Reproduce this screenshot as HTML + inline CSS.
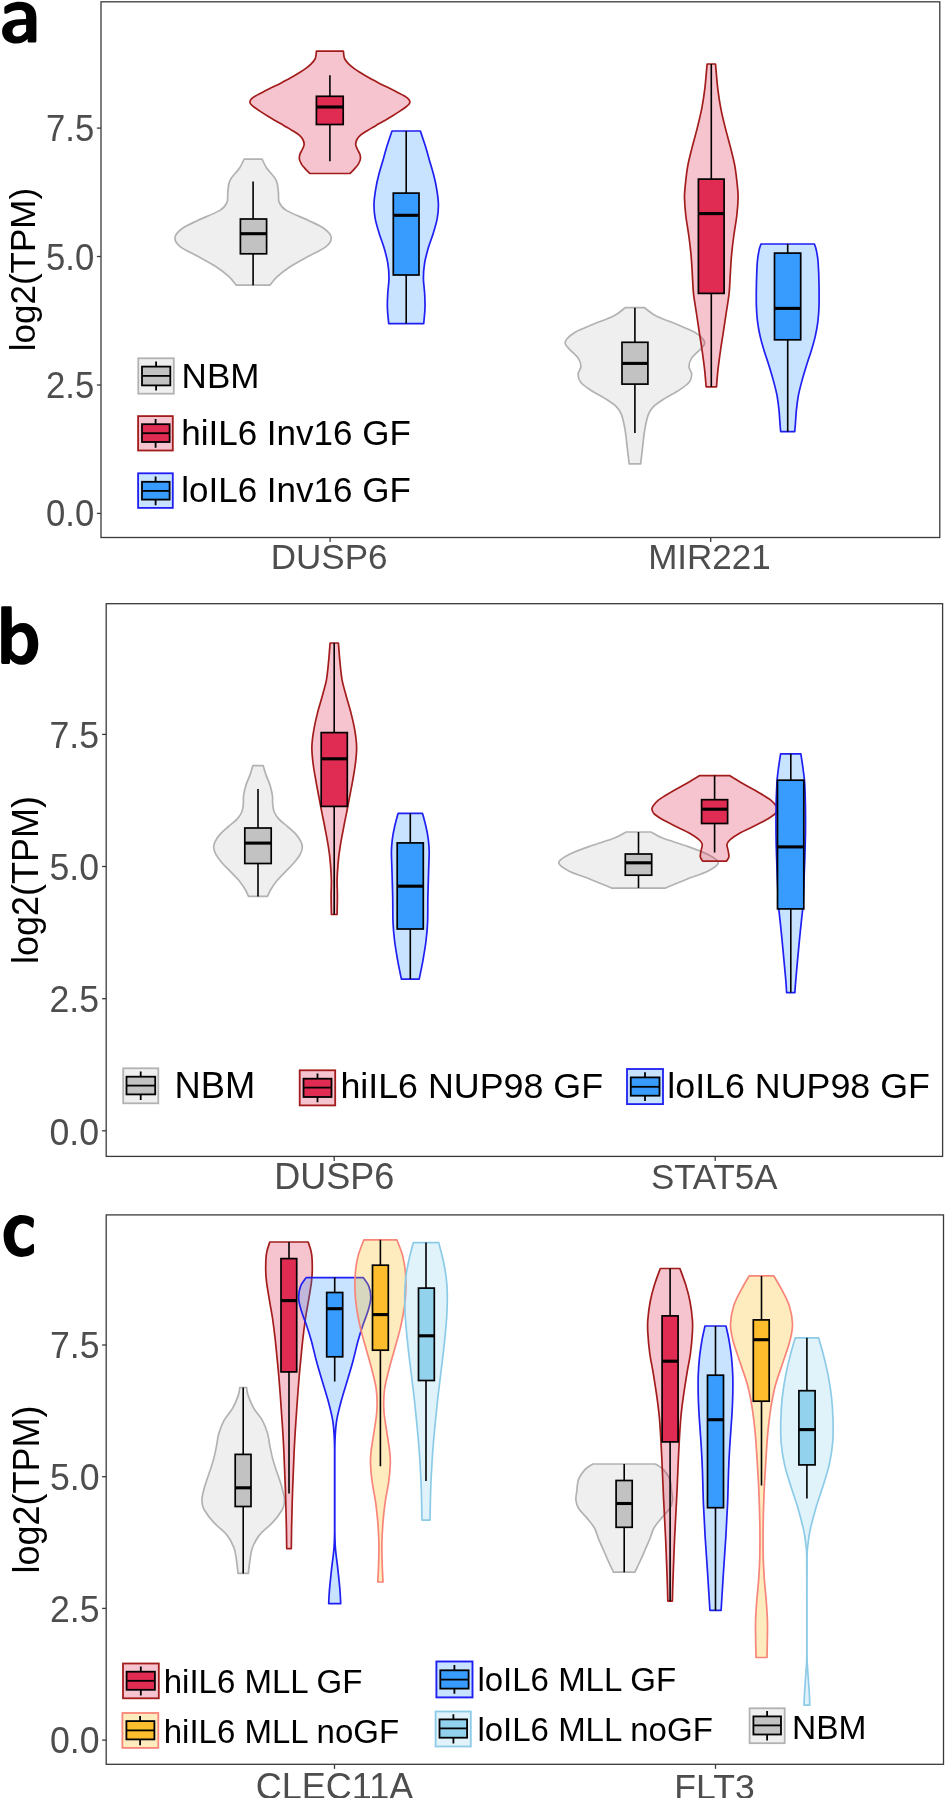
<!DOCTYPE html>
<html><head><meta charset="utf-8"><title>Figure</title>
<style>
html,body{margin:0;padding:0;background:#fff;}
body{width:945px;height:1798px;overflow:hidden;}
svg{display:block;font-family:"Liberation Sans",sans-serif;will-change:transform;transform:translateZ(0);}
</style></head><body>
<svg width="945" height="1798" viewBox="0 0 945 1798">
<rect width="945" height="1798" fill="#fff"/>
<rect x="101.0" y="1.8" width="838.8" height="535.7" fill="#fff" stroke="#3a3a3a" stroke-width="1.3"/>
<path d="M96.9 128.1 H101.0" stroke="#3a3a3a" stroke-width="1.3"/>
<text transform="translate(94.20 141.10) scale(0.962 1.020)" font-size="36.0" fill="#4d4d4d" text-anchor="end" >7.5</text>
<path d="M96.9 256.5 H101.0" stroke="#3a3a3a" stroke-width="1.3"/>
<text transform="translate(94.20 269.55) scale(0.962 1.020)" font-size="36.0" fill="#4d4d4d" text-anchor="end" >5.0</text>
<path d="M96.9 385.0 H101.0" stroke="#3a3a3a" stroke-width="1.3"/>
<text transform="translate(94.20 398.00) scale(0.962 1.020)" font-size="36.0" fill="#4d4d4d" text-anchor="end" >2.5</text>
<path d="M96.9 513.4 H101.0" stroke="#3a3a3a" stroke-width="1.3"/>
<text transform="translate(94.20 526.45) scale(0.962 1.020)" font-size="36.0" fill="#4d4d4d" text-anchor="end" >0.0</text>
<path d="M330.1 537.5 V542.1" stroke="#3a3a3a" stroke-width="1.3"/>
<text transform="translate(329.10 569.10) scale(1.000 1.000)" font-size="35.0" fill="#4d4d4d" text-anchor="middle" >DUSP6</text>
<path d="M710.7 537.5 V542.1" stroke="#3a3a3a" stroke-width="1.3"/>
<text transform="translate(709.50 569.10) scale(1.000 1.000)" font-size="35.0" fill="#4d4d4d" text-anchor="middle" >MIR221</text>
<text transform="translate(35.0 269.6) rotate(-90)" font-size="35.0" fill="#000" text-anchor="middle">log2(TPM)</text>
<rect x="106.2" y="603.7" width="836.4" height="552.7" fill="#fff" stroke="#3a3a3a" stroke-width="1.3"/>
<path d="M102.1 734.4 H106.2" stroke="#3a3a3a" stroke-width="1.3"/>
<text transform="translate(99.10 748.10) scale(0.990 1.020)" font-size="36.0" fill="#4d4d4d" text-anchor="end" >7.5</text>
<path d="M102.1 866.5 H106.2" stroke="#3a3a3a" stroke-width="1.3"/>
<text transform="translate(99.10 880.25) scale(0.990 1.020)" font-size="36.0" fill="#4d4d4d" text-anchor="end" >5.0</text>
<path d="M102.1 998.7 H106.2" stroke="#3a3a3a" stroke-width="1.3"/>
<text transform="translate(99.10 1012.40) scale(0.990 1.020)" font-size="36.0" fill="#4d4d4d" text-anchor="end" >2.5</text>
<path d="M102.1 1130.8 H106.2" stroke="#3a3a3a" stroke-width="1.3"/>
<text transform="translate(99.10 1144.55) scale(0.990 1.020)" font-size="36.0" fill="#4d4d4d" text-anchor="end" >0.0</text>
<path d="M334.2 1156.4 V1161.0" stroke="#3a3a3a" stroke-width="1.3"/>
<text transform="translate(334.20 1188.70) scale(1.000 1.000)" font-size="36.0" fill="#4d4d4d" text-anchor="middle" >DUSP6</text>
<path d="M715.2 1156.4 V1161.0" stroke="#3a3a3a" stroke-width="1.3"/>
<text transform="translate(714.20 1188.70) scale(0.969 1.000)" font-size="36.0" fill="#4d4d4d" text-anchor="middle" >STAT5A</text>
<text transform="translate(38.1 880.1) rotate(-90)" font-size="36.0" fill="#000" text-anchor="middle">log2(TPM)</text>
<rect x="106.2" y="1214.9" width="837.3" height="549.4" fill="#fff" stroke="#3a3a3a" stroke-width="1.3"/>
<path d="M102.1 1345.0 H106.2" stroke="#3a3a3a" stroke-width="1.3"/>
<text transform="translate(99.50 1358.30) scale(0.990 1.020)" font-size="36.0" fill="#4d4d4d" text-anchor="end" >7.5</text>
<path d="M102.1 1476.7 H106.2" stroke="#3a3a3a" stroke-width="1.3"/>
<text transform="translate(99.50 1490.00) scale(0.990 1.020)" font-size="36.0" fill="#4d4d4d" text-anchor="end" >5.0</text>
<path d="M102.1 1608.4 H106.2" stroke="#3a3a3a" stroke-width="1.3"/>
<text transform="translate(99.50 1621.70) scale(0.990 1.020)" font-size="36.0" fill="#4d4d4d" text-anchor="end" >2.5</text>
<path d="M102.1 1740.1 H106.2" stroke="#3a3a3a" stroke-width="1.3"/>
<text transform="translate(99.50 1753.40) scale(0.990 1.020)" font-size="36.0" fill="#4d4d4d" text-anchor="end" >0.0</text>
<path d="M334.5 1764.3 V1768.9" stroke="#3a3a3a" stroke-width="1.3"/>
<text transform="translate(334.50 1798.60) scale(1.000 1.000)" font-size="36.0" fill="#4d4d4d" text-anchor="middle" >CLEC11A</text>
<path d="M715.5 1764.3 V1768.9" stroke="#3a3a3a" stroke-width="1.3"/>
<text transform="translate(714.50 1798.60) scale(0.988 1.000)" font-size="36.0" fill="#4d4d4d" text-anchor="middle" >FLT3</text>
<text transform="translate(38.5 1489.6) rotate(-90)" font-size="36.0" fill="#000" text-anchor="middle">log2(TPM)</text>
<path d="M244.1 159.1C243.3 160.6 241.9 164.5 239.6 168.0C237.3 171.5 232.1 176.1 230.1 180.2C228.1 184.2 228.3 188.6 227.8 192.3C227.3 196.0 228.3 199.3 227.0 202.3C225.7 205.3 224.8 207.4 219.9 210.4C215.0 213.4 204.1 217.4 197.8 220.4C191.5 223.4 186.0 225.7 182.2 228.5C178.4 231.3 175.3 234.5 175.0 237.5C174.7 240.5 176.3 243.4 180.2 246.6C184.1 249.8 192.3 253.3 198.3 256.6C204.3 260.0 211.0 263.4 216.1 266.7C221.2 270.0 225.7 273.6 229.0 276.7C232.3 279.8 235.0 283.8 236.2 285.2L270.0 285.2C271.2 283.8 273.8 279.8 277.2 276.7C280.6 273.6 285.0 270.0 290.1 266.7C295.2 263.4 301.9 260.0 307.9 256.6C313.9 253.3 322.1 249.8 326.0 246.6C329.9 243.4 331.5 240.5 331.2 237.5C330.9 234.5 327.8 231.3 324.0 228.5C320.2 225.7 314.7 223.4 308.4 220.4C302.1 217.4 291.2 213.4 286.3 210.4C281.4 207.4 280.5 205.3 279.2 202.3C277.9 199.3 278.9 196.0 278.4 192.3C277.9 188.6 278.1 184.2 276.1 180.2C274.1 176.1 268.9 171.5 266.6 168.0C264.3 164.5 262.9 160.6 262.1 159.1Z" fill="rgba(190,190,190,0.25)" stroke="#b2b2b2" stroke-width="1.7" stroke-linejoin="round"/>
<path d="M316.4 51.2C316.3 51.8 316.2 53.7 316.0 55.0C315.8 56.3 315.8 57.5 315.0 59.0C314.2 60.5 312.8 62.2 311.2 63.8C309.6 65.4 307.6 67.0 305.5 68.6C303.4 70.2 300.9 71.7 298.4 73.3C295.9 74.9 293.2 76.5 290.3 78.1C287.4 79.7 284.3 81.3 281.2 82.9C278.1 84.5 274.9 86.0 271.7 87.6C268.5 89.2 265.2 90.8 262.2 92.4C259.2 94.0 255.5 95.8 253.6 97.1C251.7 98.4 251.2 99.2 250.6 100.0C250.0 100.8 249.9 101.2 249.9 101.9C249.9 102.6 250.1 103.2 250.7 104.0C251.3 104.8 252.0 105.5 253.6 106.7C255.2 107.9 257.9 109.8 260.3 111.4C262.7 113.0 265.3 114.6 267.9 116.2C270.5 117.8 273.3 119.4 276.0 121.0C278.7 122.6 281.4 124.1 284.1 125.7C286.8 127.3 289.7 128.9 292.2 130.5C294.7 132.1 297.5 133.6 299.3 135.2C301.1 136.8 302.3 138.4 303.1 140.0C303.9 141.6 304.2 143.2 304.1 144.8C304.0 146.4 303.0 147.9 302.3 149.5C301.6 151.1 300.4 152.7 299.9 154.3C299.4 155.9 299.2 157.4 299.4 159.0C299.6 160.6 300.3 162.2 301.3 163.8C302.2 165.4 303.7 167.0 305.1 168.6C306.5 170.2 309.1 172.7 309.9 173.5L349.9 173.5C350.7 172.7 353.3 170.2 354.7 168.6C356.1 167.0 357.6 165.4 358.5 163.8C359.4 162.2 360.2 160.6 360.4 159.0C360.6 157.4 360.4 155.9 359.9 154.3C359.4 152.7 358.2 151.1 357.5 149.5C356.8 147.9 355.8 146.4 355.7 144.8C355.6 143.2 355.9 141.6 356.7 140.0C357.5 138.4 358.7 136.8 360.5 135.2C362.3 133.6 365.1 132.1 367.6 130.5C370.1 128.9 373.0 127.3 375.7 125.7C378.4 124.1 381.1 122.6 383.8 121.0C386.5 119.4 389.3 117.8 391.9 116.2C394.5 114.6 397.1 113.0 399.5 111.4C401.9 109.8 404.6 107.9 406.2 106.7C407.8 105.5 408.5 104.8 409.1 104.0C409.7 103.2 409.9 102.6 409.9 101.9C409.9 101.2 409.8 100.8 409.2 100.0C408.6 99.2 408.1 98.4 406.2 97.1C404.3 95.8 400.6 94.0 397.6 92.4C394.6 90.8 391.3 89.2 388.1 87.6C384.9 86.0 381.7 84.5 378.6 82.9C375.5 81.3 372.4 79.7 369.5 78.1C366.6 76.5 363.9 74.9 361.4 73.3C358.9 71.7 356.4 70.2 354.3 68.6C352.2 67.0 350.2 65.4 348.6 63.8C347.0 62.2 345.6 60.5 344.8 59.0C344.0 57.5 344.0 56.3 343.8 55.0C343.6 53.7 343.5 51.8 343.4 51.2Z" fill="rgba(220,20,60,0.25)" stroke="#a31c1c" stroke-width="1.7" stroke-linejoin="round"/>
<path d="M392.0 131.0C391.2 133.3 389.0 139.9 387.5 144.6C386.0 149.3 384.6 154.4 383.2 159.4C381.8 164.4 380.1 169.4 378.9 174.3C377.6 179.2 376.5 184.2 375.7 189.1C374.9 194.0 374.1 199.0 374.0 203.9C373.9 208.8 374.3 213.8 375.2 218.7C376.1 223.6 377.7 228.6 379.2 233.5C380.7 238.4 382.8 243.4 384.2 248.3C385.6 253.2 387.0 258.2 387.8 263.1C388.6 268.1 389.0 273.1 389.0 278.0C389.0 282.9 388.1 287.9 387.8 292.8C387.5 297.7 387.2 302.5 387.4 307.6C387.5 312.7 388.5 320.9 388.7 323.6L423.7 323.6C423.9 320.9 424.9 312.7 425.0 307.6C425.1 302.5 424.9 297.7 424.6 292.8C424.3 287.9 423.4 282.9 423.4 278.0C423.4 273.1 423.8 268.1 424.6 263.1C425.4 258.2 426.8 253.2 428.2 248.3C429.6 243.4 431.7 238.4 433.2 233.5C434.7 228.6 436.3 223.6 437.2 218.7C438.1 213.8 438.5 208.8 438.4 203.9C438.3 199.0 437.5 194.0 436.7 189.1C435.9 184.2 434.8 179.2 433.5 174.3C432.2 169.4 430.6 164.4 429.2 159.4C427.8 154.4 426.4 149.3 424.9 144.6C423.4 139.9 421.1 133.3 420.4 131.0Z" fill="rgba(30,144,255,0.25)" stroke="#1f1ff2" stroke-width="1.7" stroke-linejoin="round"/>
<path d="M625.2 307.7C623.3 309.1 618.9 313.4 613.6 316.1C608.3 318.9 599.7 321.5 593.3 324.2C586.9 326.9 579.5 329.7 575.1 332.2C570.7 334.7 568.2 337.3 566.6 339.3C565.0 341.3 564.7 342.5 565.4 344.3C566.1 346.1 568.5 348.0 570.6 350.3C572.8 352.6 576.6 355.7 578.3 358.4C580.0 361.1 580.9 363.7 580.9 366.4C580.9 369.1 578.1 371.7 578.1 374.4C578.1 377.1 578.7 379.8 580.9 382.5C583.1 385.2 587.1 387.8 591.2 390.5C595.2 393.2 601.0 395.9 605.2 398.6C609.4 401.3 613.6 403.9 616.3 406.6C619.0 409.3 620.0 410.6 621.5 414.6C623.0 418.6 624.2 424.7 625.2 430.7C626.2 436.7 626.9 445.3 627.6 450.8C628.3 456.3 628.9 461.7 629.2 463.9L640.6 463.9C640.9 461.7 641.5 456.3 642.2 450.8C642.9 445.3 643.6 436.7 644.6 430.7C645.6 424.7 646.8 418.6 648.3 414.6C649.8 410.6 650.8 409.3 653.5 406.6C656.2 403.9 660.4 401.3 664.6 398.6C668.8 395.9 674.6 393.2 678.6 390.5C682.6 387.8 686.7 385.2 688.9 382.5C691.1 379.8 691.7 377.1 691.7 374.4C691.7 371.7 688.9 369.1 688.9 366.4C688.9 363.7 689.8 361.1 691.5 358.4C693.2 355.7 697.0 352.6 699.2 350.3C701.3 348.0 703.7 346.1 704.4 344.3C705.1 342.5 704.8 341.3 703.2 339.3C701.6 337.3 699.1 334.7 694.7 332.2C690.2 329.7 682.9 326.9 676.5 324.2C670.1 321.5 661.5 318.9 656.2 316.1C650.9 313.4 646.5 309.1 644.6 307.7Z" fill="rgba(190,190,190,0.25)" stroke="#b2b2b2" stroke-width="1.7" stroke-linejoin="round"/>
<path d="M707.1 64.0C706.7 68.2 705.7 81.5 704.8 88.9C703.9 96.3 703.0 101.9 701.8 108.4C700.5 114.9 698.9 121.4 697.3 127.9C695.7 134.4 693.7 140.9 692.1 147.4C690.5 153.9 688.7 160.3 687.6 166.8C686.4 173.3 685.7 181.1 685.2 186.3C684.7 191.5 684.4 193.1 684.5 198.0C684.6 202.9 685.1 209.3 685.8 215.5C686.5 221.7 687.8 228.5 688.7 235.0C689.6 241.5 690.4 247.9 691.0 254.4C691.6 260.9 691.9 267.4 692.3 273.9C692.7 280.4 692.8 286.9 693.5 293.4C694.2 299.9 695.4 306.4 696.4 312.9C697.4 319.4 698.3 325.8 699.3 332.3C700.3 338.8 701.4 345.3 702.3 351.8C703.2 358.3 704.2 365.5 704.8 371.3C705.4 377.1 705.9 384.2 706.1 386.8L716.5 386.8C716.7 384.2 717.2 377.1 717.8 371.3C718.4 365.5 719.4 358.3 720.3 351.8C721.2 345.3 722.3 338.8 723.3 332.3C724.3 325.8 725.2 319.4 726.2 312.9C727.2 306.4 728.4 299.9 729.1 293.4C729.8 286.9 729.9 280.4 730.3 273.9C730.7 267.4 731.0 260.9 731.6 254.4C732.2 247.9 733.0 241.5 733.9 235.0C734.8 228.5 736.1 221.7 736.8 215.5C737.5 209.3 738.0 202.9 738.1 198.0C738.2 193.1 737.9 191.5 737.4 186.3C736.9 181.1 736.1 173.3 735.0 166.8C733.9 160.3 732.1 153.9 730.5 147.4C728.9 140.9 726.9 134.4 725.3 127.9C723.7 121.4 722.0 114.9 720.8 108.4C719.5 101.9 718.7 96.3 717.8 88.9C716.9 81.5 715.9 68.2 715.5 64.0Z" fill="rgba(220,20,60,0.25)" stroke="#a31c1c" stroke-width="1.7" stroke-linejoin="round"/>
<path d="M761.0 244.0C760.7 245.0 759.7 247.2 759.1 250.2C758.5 253.2 757.8 256.3 757.3 262.0C756.9 267.7 756.6 276.9 756.4 284.3C756.3 291.7 756.2 300.3 756.4 306.5C756.6 312.7 756.9 316.4 757.5 321.3C758.1 326.2 759.0 331.2 760.1 336.1C761.2 341.0 762.7 346.0 764.2 350.9C765.7 355.8 767.5 360.8 769.0 365.7C770.5 370.6 772.1 375.7 773.4 380.6C774.7 385.6 776.1 390.5 777.0 395.4C777.9 400.3 778.5 405.3 779.0 410.2C779.5 415.1 779.8 421.4 780.1 425.0C780.4 428.6 780.6 430.6 780.7 431.7L794.7 431.7C794.8 430.6 795.0 428.6 795.3 425.0C795.6 421.4 795.9 415.1 796.4 410.2C796.9 405.3 797.5 400.3 798.4 395.4C799.3 390.5 800.7 385.6 802.0 380.6C803.3 375.7 804.9 370.6 806.4 365.7C807.9 360.8 809.7 355.8 811.2 350.9C812.7 346.0 814.2 341.0 815.3 336.1C816.4 331.2 817.3 326.2 817.9 321.3C818.5 316.4 818.8 312.7 819.0 306.5C819.2 300.3 819.1 291.7 819.0 284.3C818.9 276.9 818.5 267.7 818.1 262.0C817.7 256.3 816.9 253.2 816.3 250.2C815.7 247.2 814.7 245.0 814.4 244.0Z" fill="rgba(30,144,255,0.25)" stroke="#1f1ff2" stroke-width="1.7" stroke-linejoin="round"/>
<path d="M252.8 765.7C252.4 767.2 251.2 771.4 250.1 774.6C249.0 777.8 247.1 781.5 246.0 785.0C244.9 788.5 244.0 792.2 243.6 795.4C243.2 798.6 243.6 801.6 243.3 804.3C243.0 807.0 242.9 809.2 241.9 811.7C240.9 814.2 239.3 816.6 237.1 819.1C234.9 821.6 231.3 824.0 228.5 826.5C225.7 829.0 222.6 831.4 220.4 833.9C218.2 836.4 216.3 839.1 215.2 841.3C214.1 843.5 213.6 845.0 213.7 847.2C213.8 849.4 214.5 851.9 216.0 854.6C217.5 857.3 220.0 860.5 222.6 863.5C225.2 866.5 228.5 869.4 231.3 872.4C234.1 875.4 237.2 878.3 239.6 881.3C242.0 884.3 244.1 887.7 245.6 890.2C247.1 892.7 248.0 895.4 248.5 896.4L267.5 896.4C268.0 895.4 268.9 892.7 270.4 890.2C271.9 887.7 274.0 884.3 276.4 881.3C278.8 878.3 281.9 875.4 284.7 872.4C287.5 869.4 290.8 866.5 293.4 863.5C295.9 860.5 298.5 857.3 300.0 854.6C301.5 851.9 302.2 849.4 302.3 847.2C302.4 845.0 301.9 843.5 300.8 841.3C299.7 839.1 297.8 836.4 295.6 833.9C293.4 831.4 290.3 829.0 287.5 826.5C284.7 824.0 281.1 821.6 278.9 819.1C276.7 816.6 275.1 814.2 274.1 811.7C273.1 809.2 273.0 807.0 272.7 804.3C272.4 801.6 272.8 798.6 272.4 795.4C271.9 792.2 271.1 788.5 270.0 785.0C268.9 781.5 267.0 777.8 265.9 774.6C264.8 771.4 263.6 767.2 263.2 765.7Z" fill="rgba(190,190,190,0.25)" stroke="#b2b2b2" stroke-width="1.7" stroke-linejoin="round"/>
<path d="M330.1 643.0C329.8 646.4 329.1 657.2 328.4 663.4C327.8 669.6 327.4 674.5 326.4 680.1C325.3 685.7 323.6 691.2 322.1 696.8C320.6 702.3 318.8 707.8 317.4 713.4C316.0 719.0 314.7 724.5 313.8 730.1C312.8 735.7 312.0 741.2 311.9 746.8C311.7 752.4 312.4 757.9 313.1 763.5C313.7 769.1 314.8 774.6 315.8 780.2C316.7 785.8 317.8 791.3 318.9 796.9C319.9 802.5 321.0 808.0 322.1 813.6C323.2 819.2 324.4 824.7 325.4 830.3C326.5 835.9 327.6 841.5 328.4 847.0C329.3 852.5 330.0 858.1 330.4 863.6C330.9 869.1 331.2 874.7 331.4 880.3C331.5 885.9 331.0 891.3 331.1 897.0C331.1 902.7 331.4 911.6 331.4 914.5L337.1 914.5C337.1 911.6 337.4 902.7 337.4 897.0C337.5 891.3 337.0 885.9 337.1 880.3C337.2 874.7 337.6 869.1 338.1 863.6C338.5 858.1 339.2 852.5 340.1 847.0C340.9 841.5 342.0 835.9 343.1 830.3C344.1 824.7 345.2 819.2 346.4 813.6C347.5 808.0 348.6 802.5 349.6 796.9C350.7 791.3 351.8 785.8 352.8 780.2C353.7 774.6 354.8 769.1 355.4 763.5C356.1 757.9 356.8 752.4 356.6 746.8C356.5 741.2 355.7 735.7 354.8 730.1C353.8 724.5 352.5 719.0 351.1 713.4C349.8 707.8 347.9 702.3 346.4 696.8C344.9 691.2 343.2 685.7 342.1 680.1C341.1 674.5 340.7 669.6 340.1 663.4C339.4 657.2 338.7 646.4 338.4 643.0Z" fill="rgba(220,20,60,0.25)" stroke="#a31c1c" stroke-width="1.7" stroke-linejoin="round"/>
<path d="M398.1 813.4C397.5 815.6 395.6 822.4 394.6 826.7C393.6 831.0 392.8 835.2 392.3 839.4C391.8 843.6 391.5 846.8 391.4 852.1C391.4 857.4 391.8 863.8 392.0 871.2C392.2 878.6 392.5 888.1 392.7 896.6C392.9 905.1 392.7 914.6 393.0 922.0C393.3 929.4 393.8 934.6 394.6 941.0C395.4 947.4 396.7 954.8 397.6 960.1C398.5 965.4 399.5 969.6 400.1 972.8C400.7 976.0 401.2 978.0 401.4 979.1L419.2 979.1C419.4 978.0 419.9 976.0 420.5 972.8C421.1 969.6 422.1 965.4 423.0 960.1C423.9 954.8 425.2 947.4 426.0 941.0C426.8 934.6 427.3 929.4 427.6 922.0C427.9 914.6 427.7 905.1 427.9 896.6C428.1 888.1 428.4 878.6 428.6 871.2C428.8 863.8 429.2 857.4 429.2 852.1C429.1 846.8 428.8 843.6 428.3 839.4C427.8 835.2 427.0 831.0 426.0 826.7C425.0 822.4 423.1 815.6 422.5 813.4Z" fill="rgba(30,144,255,0.25)" stroke="#1f1ff2" stroke-width="1.7" stroke-linejoin="round"/>
<path d="M626.1 832.0C624.2 833.0 620.6 835.6 614.5 838.0C608.4 840.4 597.3 843.5 589.7 846.3C582.1 849.0 574.2 851.8 569.0 854.5C563.8 857.2 558.7 860.0 558.7 862.8C558.7 865.5 563.5 868.2 568.8 871.0C574.1 873.8 583.1 876.4 590.3 879.3C597.4 882.1 608.1 886.6 611.7 888.1L665.3 888.1C668.9 886.6 679.6 882.1 686.7 879.3C693.9 876.4 702.9 873.8 708.2 871.0C713.5 868.2 718.3 865.5 718.3 862.8C718.3 860.0 713.2 857.2 708.0 854.5C702.8 851.8 694.9 849.0 687.3 846.3C679.7 843.5 668.6 840.4 662.5 838.0C656.4 835.6 652.8 833.0 650.9 832.0Z" fill="rgba(190,190,190,0.25)" stroke="#b2b2b2" stroke-width="1.7" stroke-linejoin="round"/>
<path d="M699.6 775.6C697.3 777.0 690.6 781.1 686.0 783.8C681.4 786.5 676.2 789.1 671.7 791.7C667.2 794.4 662.1 797.3 659.0 799.7C655.9 802.1 654.3 804.4 653.1 806.0C651.9 807.6 651.8 808.2 652.0 809.5C652.2 810.8 652.3 812.2 654.3 814.0C656.3 815.8 660.1 818.2 663.8 820.3C667.5 822.4 672.3 824.6 676.5 826.7C680.7 828.8 685.5 830.9 689.2 833.0C692.9 835.1 696.5 837.5 698.7 839.4C700.9 841.2 701.8 842.2 702.2 844.1C702.6 846.0 701.4 848.4 701.1 850.5C700.8 852.6 700.0 855.0 700.3 856.8C700.6 858.6 702.3 860.4 702.7 861.1L726.5 861.1C726.9 860.4 728.6 858.6 728.9 856.8C729.2 855.0 728.4 852.6 728.1 850.5C727.8 848.4 726.6 846.0 727.0 844.1C727.4 842.2 728.3 841.2 730.5 839.4C732.7 837.5 736.3 835.1 740.0 833.0C743.7 830.9 748.5 828.8 752.7 826.7C756.9 824.6 761.7 822.4 765.4 820.3C769.1 818.2 772.9 815.8 774.9 814.0C776.9 812.2 777.0 810.8 777.2 809.5C777.4 808.2 777.3 807.6 776.1 806.0C774.9 804.4 773.3 802.1 770.2 799.7C767.1 797.3 762.0 794.4 757.5 791.7C753.0 789.1 747.9 786.5 743.2 783.8C738.6 781.1 731.9 777.0 729.6 775.6Z" fill="rgba(220,20,60,0.25)" stroke="#a31c1c" stroke-width="1.7" stroke-linejoin="round"/>
<path d="M780.6 753.8C780.2 756.5 778.9 764.8 778.2 770.0C777.6 775.2 777.1 777.5 776.8 785.0C776.4 792.5 776.0 805.1 776.0 815.1C775.9 825.1 776.0 835.1 776.2 845.1C776.5 855.1 776.9 865.1 777.2 875.1C777.6 885.1 778.1 897.7 778.5 905.2C779.0 912.7 779.3 912.7 780.0 920.2C780.8 927.7 782.1 940.2 783.0 950.2C784.0 960.2 785.1 973.1 785.8 980.2C786.4 987.3 786.5 990.5 786.6 992.6L794.9 992.6C795.0 990.5 795.1 987.3 795.8 980.2C796.4 973.1 797.5 960.2 798.5 950.2C799.4 940.2 800.7 927.7 801.5 920.2C802.2 912.7 802.5 912.7 803.0 905.2C803.4 897.7 803.9 885.1 804.2 875.1C804.6 865.1 805.0 855.1 805.2 845.1C805.5 835.1 805.6 825.1 805.5 815.1C805.5 805.1 805.1 792.5 804.8 785.0C804.4 777.5 803.9 775.2 803.2 770.0C802.6 764.8 801.2 756.5 800.9 753.8Z" fill="rgba(30,144,255,0.25)" stroke="#1f1ff2" stroke-width="1.7" stroke-linejoin="round"/>
<path d="M239.8 1387.5C239.5 1388.8 239.5 1392.0 238.3 1395.4C237.1 1398.8 235.1 1403.9 232.7 1408.1C230.3 1412.3 226.1 1416.6 223.8 1420.8C221.5 1425.0 220.0 1429.3 218.8 1433.5C217.6 1437.7 217.3 1442.0 216.5 1446.2C215.7 1450.4 214.8 1454.7 213.7 1458.9C212.6 1463.1 211.1 1467.4 209.7 1471.6C208.3 1475.8 206.6 1480.1 205.4 1484.3C204.1 1488.5 202.7 1493.8 202.2 1497.0C201.7 1500.2 201.9 1501.2 202.2 1503.3C202.5 1505.4 202.3 1506.5 204.2 1509.7C206.1 1512.9 209.9 1518.2 213.7 1522.4C217.5 1526.6 223.6 1530.9 227.0 1535.1C230.4 1539.3 232.4 1543.6 234.0 1547.8C235.6 1552.0 235.8 1556.2 236.5 1560.5C237.2 1564.8 237.8 1571.2 238.0 1573.4L248.4 1573.4C248.6 1571.2 249.2 1564.8 249.9 1560.5C250.6 1556.2 250.8 1552.0 252.4 1547.8C254.0 1543.6 256.0 1539.3 259.4 1535.1C262.8 1530.9 268.9 1526.6 272.7 1522.4C276.5 1518.2 280.3 1512.9 282.2 1509.7C284.1 1506.5 283.9 1505.4 284.2 1503.3C284.5 1501.2 284.7 1500.2 284.2 1497.0C283.7 1493.8 282.2 1488.5 281.0 1484.3C279.8 1480.1 278.1 1475.8 276.7 1471.6C275.3 1467.4 273.8 1463.1 272.7 1458.9C271.6 1454.7 270.8 1450.4 269.9 1446.2C269.0 1442.0 268.8 1437.7 267.6 1433.5C266.4 1429.3 264.9 1425.0 262.6 1420.8C260.3 1416.6 256.1 1412.3 253.7 1408.1C251.3 1403.9 249.3 1398.8 248.1 1395.4C246.9 1392.0 246.8 1388.8 246.6 1387.5Z" fill="rgba(190,190,190,0.25)" stroke="#b2b2b2" stroke-width="1.7" stroke-linejoin="round"/>
<path d="M269.8 1242.0C269.2 1243.9 267.2 1249.0 266.5 1253.4C265.8 1257.8 265.7 1263.8 265.7 1268.5C265.7 1273.2 265.9 1276.4 266.5 1281.7C267.1 1287.0 268.5 1294.3 269.5 1300.6C270.5 1306.9 271.8 1313.2 272.7 1319.5C273.6 1325.8 274.4 1332.1 275.1 1338.4C275.8 1344.7 276.4 1351.0 277.0 1357.3C277.6 1363.6 278.0 1366.8 278.8 1376.2C279.6 1385.7 280.8 1401.4 281.6 1414.0C282.5 1426.6 283.3 1439.3 283.9 1451.9C284.5 1464.5 285.0 1477.1 285.4 1489.7C285.8 1502.3 286.2 1517.7 286.4 1527.5C286.6 1537.3 286.6 1545.1 286.7 1548.6L291.3 1548.6C291.4 1545.1 291.4 1537.3 291.6 1527.5C291.8 1517.7 292.2 1502.3 292.6 1489.7C293.0 1477.1 293.5 1464.5 294.1 1451.9C294.7 1439.3 295.5 1426.6 296.4 1414.0C297.2 1401.4 298.4 1385.7 299.2 1376.2C300.0 1366.8 300.4 1363.6 301.0 1357.3C301.6 1351.0 302.2 1344.7 302.9 1338.4C303.6 1332.1 304.4 1325.8 305.3 1319.5C306.2 1313.2 307.5 1306.9 308.5 1300.6C309.5 1294.3 310.9 1287.0 311.5 1281.7C312.1 1276.4 312.3 1273.2 312.3 1268.5C312.3 1263.8 312.2 1257.8 311.5 1253.4C310.8 1249.0 308.8 1243.9 308.2 1242.0Z" fill="rgba(220,20,60,0.25)" stroke="#a31c1c" stroke-width="1.7" stroke-linejoin="round"/>
<path d="M306.1 1277.6C305.2 1279.0 301.8 1282.7 300.6 1286.1C299.3 1289.5 298.5 1294.1 298.6 1298.1C298.7 1302.1 299.8 1305.8 301.1 1310.1C302.3 1314.4 304.4 1319.1 306.1 1324.1C307.8 1329.1 309.5 1334.2 311.2 1340.2C312.9 1346.2 314.4 1353.5 316.2 1360.2C318.0 1366.9 320.0 1373.5 322.0 1380.2C324.0 1386.9 326.2 1393.6 328.0 1400.3C329.8 1407.0 331.7 1414.3 332.7 1420.3C333.7 1426.2 333.9 1431.0 334.2 1436.0C334.5 1441.0 334.5 1441.0 334.6 1450.0C334.6 1459.0 334.6 1476.6 334.6 1490.0C334.6 1503.4 334.6 1521.3 334.6 1530.5C334.5 1539.7 334.4 1540.9 334.2 1545.0C334.0 1549.1 333.8 1550.7 333.3 1555.0C332.8 1559.3 332.0 1564.6 331.4 1570.6C330.8 1576.5 329.8 1585.2 329.4 1590.7C328.9 1596.2 328.8 1601.5 328.7 1603.7L340.7 1603.7C340.6 1601.5 340.4 1596.2 340.0 1590.7C339.6 1585.2 338.6 1576.5 338.0 1570.6C337.4 1564.6 336.6 1559.3 336.1 1555.0C335.6 1550.7 335.4 1549.1 335.2 1545.0C335.0 1540.9 334.9 1539.7 334.8 1530.5C334.8 1521.3 334.8 1503.4 334.8 1490.0C334.8 1476.6 334.8 1459.0 334.8 1450.0C334.9 1441.0 334.9 1441.0 335.2 1436.0C335.5 1431.0 335.7 1426.2 336.7 1420.3C337.7 1414.3 339.6 1407.0 341.4 1400.3C343.2 1393.6 345.4 1386.9 347.4 1380.2C349.4 1373.5 351.4 1366.9 353.2 1360.2C355.0 1353.5 356.5 1346.2 358.2 1340.2C359.9 1334.2 361.6 1329.1 363.3 1324.1C365.0 1319.1 367.1 1314.4 368.3 1310.1C369.6 1305.8 370.7 1302.1 370.8 1298.1C370.9 1294.1 370.1 1289.5 368.8 1286.1C367.6 1282.7 364.2 1279.0 363.3 1277.6Z" fill="rgba(30,144,255,0.25)" stroke="#1f1ff2" stroke-width="1.7" stroke-linejoin="round"/>
<path d="M363.9 1239.8C362.9 1242.5 359.5 1250.5 358.1 1255.9C356.7 1261.3 355.9 1266.5 355.4 1272.3C354.9 1278.1 354.8 1285.0 355.0 1290.8C355.2 1296.6 355.6 1301.1 356.5 1307.3C357.4 1313.5 358.8 1321.0 360.4 1327.9C362.0 1334.8 364.1 1341.7 366.0 1348.5C367.9 1355.3 370.0 1362.2 371.7 1369.0C373.4 1375.8 375.4 1382.7 376.3 1389.6C377.2 1396.5 377.2 1403.3 376.9 1410.2C376.5 1417.1 375.2 1424.0 374.2 1430.8C373.2 1437.6 371.7 1445.8 371.1 1451.3C370.5 1456.8 370.3 1458.5 370.5 1463.7C370.7 1468.9 371.3 1475.7 372.2 1482.2C373.1 1488.7 374.8 1495.9 375.7 1502.8C376.6 1509.7 377.4 1516.6 377.9 1523.4C378.4 1530.2 378.8 1537.1 378.9 1543.9C379.0 1550.8 378.8 1558.2 378.6 1564.5C378.4 1570.8 377.9 1579.1 377.8 1582.0L383.0 1582.0C382.9 1579.1 382.4 1570.8 382.2 1564.5C382.0 1558.2 381.8 1550.8 381.9 1543.9C382.0 1537.1 382.4 1530.2 382.9 1523.4C383.4 1516.6 384.1 1509.7 385.1 1502.8C386.0 1495.9 387.7 1488.7 388.6 1482.2C389.5 1475.7 390.1 1468.9 390.3 1463.7C390.5 1458.5 390.3 1456.8 389.7 1451.3C389.1 1445.8 387.6 1437.6 386.6 1430.8C385.6 1424.0 384.2 1417.1 383.9 1410.2C383.5 1403.3 383.6 1396.5 384.5 1389.6C385.4 1382.7 387.4 1375.8 389.1 1369.0C390.8 1362.2 392.9 1355.3 394.8 1348.5C396.7 1341.7 398.8 1334.8 400.4 1327.9C402.0 1321.0 403.4 1313.5 404.3 1307.3C405.2 1301.1 405.6 1296.6 405.8 1290.8C406.0 1285.0 405.9 1278.1 405.4 1272.3C404.9 1266.5 404.1 1261.3 402.7 1255.9C401.3 1250.5 397.9 1242.5 396.9 1239.8Z" fill="rgba(255,185,15,0.27)" stroke="#f8857a" stroke-width="1.7" stroke-linejoin="round"/>
<path d="M413.3 1242.6C412.6 1245.4 410.2 1253.8 409.0 1259.5C407.8 1265.2 406.6 1271.0 405.9 1276.7C405.2 1282.5 404.8 1288.2 404.7 1294.0C404.6 1299.8 404.8 1305.5 405.0 1311.2C405.2 1316.9 405.7 1322.7 406.2 1328.4C406.7 1334.2 407.3 1340.0 407.9 1345.7C408.5 1351.5 409.2 1357.2 409.9 1362.9C410.6 1368.7 411.3 1374.5 412.0 1380.2C412.7 1386.0 413.5 1391.7 414.1 1397.4C414.8 1403.2 415.3 1409.0 415.9 1414.7C416.5 1420.5 417.1 1426.2 417.6 1431.9C418.1 1437.6 418.7 1443.3 419.1 1449.1C419.5 1454.8 419.9 1460.7 420.2 1466.4C420.5 1472.2 420.9 1477.8 421.1 1483.6C421.3 1489.3 421.5 1494.8 421.6 1500.9C421.8 1507.0 421.9 1517.0 422.0 1520.2L430.0 1520.2C430.1 1517.0 430.2 1507.0 430.4 1500.9C430.5 1494.8 430.7 1489.3 430.9 1483.6C431.1 1477.8 431.5 1472.2 431.8 1466.4C432.1 1460.7 432.5 1454.8 432.9 1449.1C433.3 1443.3 433.9 1437.6 434.4 1431.9C434.9 1426.2 435.5 1420.5 436.1 1414.7C436.7 1409.0 437.2 1403.2 437.9 1397.4C438.5 1391.7 439.3 1386.0 440.0 1380.2C440.7 1374.5 441.4 1368.7 442.1 1362.9C442.8 1357.2 443.5 1351.5 444.1 1345.7C444.7 1340.0 445.3 1334.2 445.8 1328.4C446.3 1322.7 446.8 1316.9 447.0 1311.2C447.2 1305.5 447.4 1299.8 447.3 1294.0C447.2 1288.2 446.8 1282.5 446.1 1276.7C445.4 1271.0 444.2 1265.2 443.0 1259.5C441.8 1253.8 439.4 1245.4 438.7 1242.6Z" fill="rgba(135,206,235,0.25)" stroke="#8ccbe8" stroke-width="1.7" stroke-linejoin="round"/>
<path d="M592.9 1464.0C591.5 1465.0 587.1 1467.2 584.7 1469.8C582.3 1472.4 579.8 1476.0 578.5 1479.4C577.2 1482.8 577.3 1487.0 576.9 1490.4C576.5 1493.8 575.6 1497.0 575.9 1500.0C576.2 1503.0 576.7 1505.3 578.5 1508.3C580.3 1511.3 584.1 1514.7 586.7 1517.9C589.3 1521.1 592.2 1524.1 594.2 1527.5C596.2 1530.9 596.9 1534.8 598.4 1538.5C599.9 1542.2 601.6 1545.8 603.2 1549.5C604.8 1553.2 606.3 1556.7 608.0 1560.5C609.7 1564.3 612.6 1570.2 613.5 1572.2L634.9 1572.2C635.8 1570.2 638.7 1564.3 640.4 1560.5C642.1 1556.7 643.6 1553.2 645.2 1549.5C646.8 1545.8 648.5 1542.2 650.0 1538.5C651.5 1534.8 652.2 1530.9 654.2 1527.5C656.2 1524.1 659.1 1521.1 661.7 1517.9C664.3 1514.7 668.1 1511.3 669.9 1508.3C671.7 1505.3 672.2 1503.0 672.5 1500.0C672.8 1497.0 671.9 1493.8 671.5 1490.4C671.1 1487.0 671.2 1482.8 669.9 1479.4C668.6 1476.0 666.1 1472.4 663.7 1469.8C661.3 1467.2 656.9 1465.0 655.5 1464.0Z" fill="rgba(190,190,190,0.25)" stroke="#b2b2b2" stroke-width="1.7" stroke-linejoin="round"/>
<path d="M660.3 1268.5C659.3 1271.2 656.1 1279.5 654.4 1285.0C652.7 1290.5 651.3 1295.7 650.2 1301.5C649.1 1307.3 648.2 1314.8 647.8 1320.0C647.4 1325.2 647.5 1326.9 647.8 1332.4C648.1 1337.9 648.8 1346.1 649.7 1353.0C650.6 1359.9 652.2 1366.7 653.3 1373.6C654.4 1380.5 655.5 1387.3 656.5 1394.2C657.5 1401.1 658.4 1407.9 659.1 1414.7C659.8 1421.5 660.2 1428.4 660.6 1435.3C661.0 1442.2 661.2 1445.6 661.7 1455.9C662.2 1466.2 662.9 1483.4 663.5 1497.1C664.1 1510.8 665.0 1524.6 665.6 1538.3C666.2 1552.0 666.8 1569.0 667.2 1579.5C667.6 1590.0 667.7 1597.5 667.8 1601.1L672.4 1601.1C672.5 1597.5 672.6 1590.0 673.0 1579.5C673.4 1569.0 674.0 1552.0 674.6 1538.3C675.2 1524.6 676.1 1510.8 676.7 1497.1C677.4 1483.4 678.0 1466.2 678.5 1455.9C679.0 1445.6 679.2 1442.2 679.6 1435.3C680.0 1428.4 680.4 1421.5 681.1 1414.7C681.8 1407.9 682.7 1401.1 683.7 1394.2C684.7 1387.3 685.8 1380.5 686.9 1373.6C688.0 1366.7 689.6 1359.9 690.5 1353.0C691.4 1346.1 692.1 1337.9 692.4 1332.4C692.7 1326.9 692.8 1325.2 692.4 1320.0C692.0 1314.8 691.1 1307.3 690.0 1301.5C688.9 1295.7 687.5 1290.5 685.8 1285.0C684.1 1279.5 680.9 1271.2 679.9 1268.5Z" fill="rgba(220,20,60,0.25)" stroke="#a31c1c" stroke-width="1.7" stroke-linejoin="round"/>
<path d="M705.0 1326.0C704.5 1328.4 702.8 1335.2 701.9 1340.6C701.0 1346.0 700.0 1352.4 699.4 1358.3C698.8 1364.2 698.4 1370.2 698.2 1376.1C698.0 1382.0 698.1 1388.0 698.2 1393.9C698.3 1399.8 698.6 1405.8 698.9 1411.7C699.2 1417.6 699.7 1423.5 700.1 1429.4C700.5 1435.3 700.9 1441.3 701.3 1447.2C701.6 1453.1 702.0 1459.1 702.2 1465.0C702.5 1470.9 702.6 1476.9 702.8 1482.8C703.0 1488.7 703.1 1494.7 703.3 1500.6C703.5 1506.5 703.9 1512.4 704.2 1518.3C704.5 1524.2 704.8 1530.2 705.1 1536.1C705.5 1542.0 705.9 1548.0 706.3 1553.9C706.7 1559.8 707.1 1565.8 707.5 1571.7C707.9 1577.6 708.2 1583.0 708.6 1589.4C709.0 1595.9 709.7 1606.9 709.9 1610.4L721.1 1610.4C721.3 1606.9 722.0 1595.9 722.4 1589.4C722.8 1583.0 723.1 1577.6 723.5 1571.7C723.9 1565.8 724.3 1559.8 724.7 1553.9C725.1 1548.0 725.5 1542.0 725.9 1536.1C726.2 1530.2 726.5 1524.2 726.8 1518.3C727.1 1512.4 727.5 1506.5 727.7 1500.6C727.9 1494.7 728.0 1488.7 728.2 1482.8C728.4 1476.9 728.5 1470.9 728.8 1465.0C729.0 1459.1 729.4 1453.1 729.7 1447.2C730.1 1441.3 730.5 1435.3 730.9 1429.4C731.3 1423.5 731.8 1417.6 732.1 1411.7C732.4 1405.8 732.7 1399.8 732.8 1393.9C732.9 1388.0 733.0 1382.0 732.8 1376.1C732.6 1370.2 732.2 1364.2 731.6 1358.3C731.0 1352.4 730.0 1346.0 729.1 1340.6C728.2 1335.2 726.5 1328.4 726.0 1326.0Z" fill="rgba(30,144,255,0.25)" stroke="#1f1ff2" stroke-width="1.7" stroke-linejoin="round"/>
<path d="M749.2 1275.9C747.9 1278.2 743.9 1284.6 741.3 1289.6C738.7 1294.5 735.6 1299.9 733.8 1305.6C732.0 1311.3 730.7 1318.1 730.5 1323.8C730.3 1329.5 731.2 1333.2 732.8 1339.7C734.4 1346.2 737.6 1354.9 740.1 1362.5C742.6 1370.1 745.6 1377.7 747.6 1385.3C749.6 1392.9 751.0 1400.5 752.2 1408.1C753.4 1415.7 754.2 1423.2 755.0 1430.8C755.8 1438.4 756.1 1444.1 756.7 1453.6C757.3 1463.1 758.2 1476.4 758.7 1487.8C759.2 1499.2 759.6 1510.6 759.8 1522.0C760.0 1533.4 760.0 1546.6 759.8 1556.1C759.6 1565.6 759.2 1571.3 758.7 1578.9C758.2 1586.5 757.2 1594.9 756.7 1601.7C756.2 1608.5 755.8 1614.2 755.6 1619.9C755.4 1625.6 755.5 1629.6 755.6 1635.9C755.7 1642.2 755.9 1653.9 756.0 1657.5L767.0 1657.5C767.1 1653.9 767.3 1642.2 767.4 1635.9C767.5 1629.6 767.6 1625.6 767.4 1619.9C767.2 1614.2 766.8 1608.5 766.3 1601.7C765.8 1594.9 764.8 1586.5 764.3 1578.9C763.8 1571.3 763.4 1565.6 763.2 1556.1C763.0 1546.6 763.0 1533.4 763.2 1522.0C763.4 1510.6 763.8 1499.2 764.3 1487.8C764.8 1476.4 765.7 1463.1 766.3 1453.6C766.9 1444.1 767.2 1438.4 768.0 1430.8C768.8 1423.2 769.6 1415.7 770.8 1408.1C772.0 1400.5 773.4 1392.9 775.4 1385.3C777.4 1377.7 780.4 1370.1 782.9 1362.5C785.4 1354.9 788.6 1346.2 790.2 1339.7C791.8 1333.2 792.7 1329.5 792.5 1323.8C792.3 1318.1 791.0 1311.3 789.2 1305.6C787.4 1299.9 784.3 1294.5 781.7 1289.6C779.1 1284.6 775.1 1278.2 773.8 1275.9Z" fill="rgba(255,185,15,0.27)" stroke="#f8857a" stroke-width="1.7" stroke-linejoin="round"/>
<path d="M795.2 1337.8C794.5 1340.4 792.4 1347.0 790.8 1353.3C789.2 1359.6 787.0 1368.2 785.6 1375.6C784.2 1383.0 783.0 1390.4 782.2 1397.8C781.4 1405.2 781.0 1412.6 780.8 1420.0C780.6 1427.4 780.5 1434.8 781.1 1442.2C781.7 1449.6 782.9 1457.0 784.5 1464.4C786.1 1471.8 788.7 1479.3 791.0 1486.7C793.3 1494.1 796.0 1501.5 798.2 1508.9C800.3 1516.3 802.6 1525.1 803.9 1531.1C805.2 1537.1 805.4 1540.8 805.9 1545.0C806.4 1549.2 806.5 1546.8 806.7 1556.0C806.8 1565.2 806.8 1584.3 806.8 1600.0C806.8 1615.7 806.8 1639.3 806.8 1650.0C806.8 1660.7 806.7 1659.7 806.5 1664.0C806.3 1668.3 806.0 1670.7 805.7 1675.6C805.4 1680.5 804.8 1688.4 804.5 1693.3C804.2 1698.2 804.1 1703.1 804.0 1705.1L809.8 1705.1C809.7 1703.1 809.6 1698.2 809.3 1693.3C809.0 1688.4 808.4 1680.5 808.1 1675.6C807.8 1670.7 807.5 1668.3 807.3 1664.0C807.1 1659.7 807.0 1660.7 807.0 1650.0C807.0 1639.3 807.0 1615.7 807.0 1600.0C807.0 1584.3 807.0 1565.2 807.1 1556.0C807.2 1546.8 807.4 1549.2 807.9 1545.0C808.4 1540.8 808.6 1537.1 809.9 1531.1C811.2 1525.1 813.5 1516.3 815.6 1508.9C817.8 1501.5 820.5 1494.1 822.8 1486.7C825.1 1479.3 827.6 1471.8 829.3 1464.4C830.9 1457.0 832.1 1449.6 832.7 1442.2C833.3 1434.8 833.2 1427.4 833.0 1420.0C832.8 1412.6 832.4 1405.2 831.6 1397.8C830.8 1390.4 829.6 1383.0 828.2 1375.6C826.8 1368.2 824.6 1359.6 823.0 1353.3C821.4 1347.0 819.3 1340.4 818.6 1337.8Z" fill="rgba(135,206,235,0.25)" stroke="#8ccbe8" stroke-width="1.7" stroke-linejoin="round"/>
<path d="M253.1 181.6 V219.0 M253.1 253.8 V285.2" stroke="#000" stroke-width="1.6" fill="none"/><rect x="240.4" y="219.0" width="26.2" height="34.8" fill="#c2c2c2" stroke="#000" stroke-width="1.7"/><path d="M240.4 233.7 H266.6" stroke="#000" stroke-width="3.1"/>
<path d="M329.9 75.2 V96.3 M329.9 124.5 V161.3" stroke="#000" stroke-width="1.6" fill="none"/><rect x="316.4" y="96.3" width="26.8" height="28.2" fill="#e02c52" stroke="#000" stroke-width="1.7"/><path d="M316.4 107.0 H343.2" stroke="#000" stroke-width="3.1"/>
<path d="M406.2 131.0 V193.1 M406.2 275.0 V323.6" stroke="#000" stroke-width="1.6" fill="none"/><rect x="393.3" y="193.1" width="25.7" height="81.9" fill="#389cff" stroke="#000" stroke-width="1.7"/><path d="M393.3 215.3 H419.0" stroke="#000" stroke-width="3.1"/>
<path d="M634.9 307.7 V342.3 M634.9 384.1 V433.1" stroke="#000" stroke-width="1.6" fill="none"/><rect x="622.0" y="342.3" width="25.9" height="41.8" fill="#c2c2c2" stroke="#000" stroke-width="1.7"/><path d="M622.0 363.4 H647.9" stroke="#000" stroke-width="3.1"/>
<path d="M711.3 64.0 V179.1 M711.3 293.4 V386.8" stroke="#000" stroke-width="1.6" fill="none"/><rect x="698.4" y="179.1" width="25.7" height="114.3" fill="#e02c52" stroke="#000" stroke-width="1.7"/><path d="M698.4 213.6 H724.1" stroke="#000" stroke-width="3.1"/>
<path d="M787.7 244.0 V253.1 M787.7 339.8 V431.7" stroke="#000" stroke-width="1.6" fill="none"/><rect x="774.5" y="253.1" width="26.2" height="86.7" fill="#389cff" stroke="#000" stroke-width="1.7"/><path d="M774.5 308.4 H800.7" stroke="#000" stroke-width="3.1"/>
<path d="M258.0 789.1 V828.0 M258.0 863.5 V896.4" stroke="#000" stroke-width="1.6" fill="none"/><rect x="244.8" y="828.0" width="26.4" height="35.5" fill="#c2c2c2" stroke="#000" stroke-width="1.7"/><path d="M244.8 843.1 H271.2" stroke="#000" stroke-width="3.1"/>
<path d="M334.2 643.0 V732.6 M334.2 806.4 V914.5" stroke="#000" stroke-width="1.6" fill="none"/><rect x="321.2" y="732.6" width="26.1" height="73.8" fill="#e02c52" stroke="#000" stroke-width="1.7"/><path d="M321.2 758.8 H347.3" stroke="#000" stroke-width="3.1"/>
<path d="M410.3 813.4 V842.9 M410.3 929.0 V979.1" stroke="#000" stroke-width="1.6" fill="none"/><rect x="397.2" y="842.9" width="26.1" height="86.1" fill="#389cff" stroke="#000" stroke-width="1.7"/><path d="M397.2 886.2 H423.3" stroke="#000" stroke-width="3.1"/>
<path d="M638.5 832.0 V854.0 M638.5 875.2 V888.1" stroke="#000" stroke-width="1.6" fill="none"/><rect x="625.3" y="854.0" width="26.4" height="21.2" fill="#c2c2c2" stroke="#000" stroke-width="1.7"/><path d="M625.3 862.8 H651.7" stroke="#000" stroke-width="3.1"/>
<path d="M714.6 775.6 V799.7 M714.6 823.5 V852.5" stroke="#000" stroke-width="1.6" fill="none"/><rect x="701.6" y="799.7" width="26.0" height="23.8" fill="#e02c52" stroke="#000" stroke-width="1.7"/><path d="M701.6 809.2 H727.6" stroke="#000" stroke-width="3.1"/>
<path d="M790.8 753.8 V780.2 M790.8 908.9 V992.6" stroke="#000" stroke-width="1.6" fill="none"/><rect x="777.5" y="780.2" width="26.3" height="128.7" fill="#389cff" stroke="#000" stroke-width="1.7"/><path d="M777.5 846.9 H803.8" stroke="#000" stroke-width="3.1"/>
<path d="M243.2 1387.5 V1454.4 M243.2 1506.5 V1573.4" stroke="#000" stroke-width="1.6" fill="none"/><rect x="235.2" y="1454.4" width="15.8" height="52.1" fill="#c2c2c2" stroke="#000" stroke-width="1.7"/><path d="M235.2 1487.8 H251.0" stroke="#000" stroke-width="3.1"/>
<path d="M289.0 1242.0 V1258.6 M289.0 1371.9 V1493.4" stroke="#000" stroke-width="1.6" fill="none"/><rect x="281.0" y="1258.6" width="15.7" height="113.3" fill="#e02c52" stroke="#000" stroke-width="1.7"/><path d="M281.0 1300.6 H296.7" stroke="#000" stroke-width="3.1"/>
<path d="M334.7 1277.6 V1292.5 M334.7 1356.8 V1381.6" stroke="#000" stroke-width="1.6" fill="none"/><rect x="326.7" y="1292.5" width="16.0" height="64.3" fill="#389cff" stroke="#000" stroke-width="1.7"/><path d="M326.7 1308.7 H342.7" stroke="#000" stroke-width="3.1"/>
<path d="M380.4 1239.8 V1265.2 M380.4 1350.2 V1466.2" stroke="#000" stroke-width="1.6" fill="none"/><rect x="372.5" y="1265.2" width="15.8" height="85.0" fill="#fdbd2c" stroke="#000" stroke-width="1.7"/><path d="M372.5 1314.6 H388.3" stroke="#000" stroke-width="3.1"/>
<path d="M426.0 1242.6 V1288.1 M426.0 1380.5 V1481.0" stroke="#000" stroke-width="1.6" fill="none"/><rect x="418.5" y="1288.1" width="15.8" height="92.4" fill="#92d2ec" stroke="#000" stroke-width="1.7"/><path d="M418.5 1335.8 H434.3" stroke="#000" stroke-width="3.1"/>
<path d="M624.2 1464.0 V1480.5 M624.2 1527.3 V1572.2" stroke="#000" stroke-width="1.6" fill="none"/><rect x="616.1" y="1480.5" width="16.1" height="46.8" fill="#c2c2c2" stroke="#000" stroke-width="1.7"/><path d="M616.1 1503.5 H632.2" stroke="#000" stroke-width="3.1"/>
<path d="M670.1 1268.5 V1315.9 M670.1 1441.9 V1601.1" stroke="#000" stroke-width="1.6" fill="none"/><rect x="662.1" y="1315.9" width="16.0" height="126.0" fill="#e02c52" stroke="#000" stroke-width="1.7"/><path d="M662.1 1361.2 H678.1" stroke="#000" stroke-width="3.1"/>
<path d="M715.5 1326.0 V1375.2 M715.5 1507.7 V1610.4" stroke="#000" stroke-width="1.6" fill="none"/><rect x="707.5" y="1375.2" width="16.0" height="132.5" fill="#389cff" stroke="#000" stroke-width="1.7"/><path d="M707.5 1419.7 H723.5" stroke="#000" stroke-width="3.1"/>
<path d="M761.5 1275.9 V1319.9 M761.5 1401.2 V1485.5" stroke="#000" stroke-width="1.6" fill="none"/><rect x="753.3" y="1319.9" width="15.9" height="81.3" fill="#fdbd2c" stroke="#000" stroke-width="1.7"/><path d="M753.3 1339.7 H769.2" stroke="#000" stroke-width="3.1"/>
<path d="M806.9 1337.8 V1390.7 M806.9 1464.9 V1498.4" stroke="#000" stroke-width="1.6" fill="none"/><rect x="798.9" y="1390.7" width="16.2" height="74.2" fill="#92d2ec" stroke="#000" stroke-width="1.7"/><path d="M798.9 1429.6 H815.1" stroke="#000" stroke-width="3.1"/>
<rect x="138.3" y="358.3" width="35.5" height="35.4" fill="rgba(190,190,190,0.25)" stroke="#b2b2b2" stroke-width="1.8"/><path d="M156.1 361.5 V366.6 M156.1 385.4 V390.5" stroke="#000" stroke-width="1.8"/><rect x="142.0" y="366.6" width="28.3" height="18.8" fill="#c2c2c2" stroke="#000" stroke-width="1.8"/><path d="M142.0 375.9 H170.3" stroke="#000" stroke-width="1.8"/>
<rect x="138.1" y="416.1" width="34.7" height="34.4" fill="rgba(220,20,60,0.25)" stroke="#a31c1c" stroke-width="1.8"/><path d="M155.6 419.0 V424.2 M155.6 442.0 V447.7" stroke="#000" stroke-width="1.8"/><rect x="142.0" y="424.2" width="27.6" height="17.8" fill="#e02c52" stroke="#000" stroke-width="1.8"/><path d="M142.0 433.2 H169.6" stroke="#000" stroke-width="1.8"/>
<rect x="138.1" y="473.3" width="34.7" height="34.6" fill="rgba(30,144,255,0.25)" stroke="#1f1ff2" stroke-width="1.8"/><path d="M155.6 476.5 V481.8 M155.6 499.6 V505.3" stroke="#000" stroke-width="1.8"/><rect x="142.0" y="481.8" width="27.6" height="17.8" fill="#389cff" stroke="#000" stroke-width="1.8"/><path d="M142.0 490.9 H169.6" stroke="#000" stroke-width="1.8"/>
<text transform="translate(181.60 388.30) scale(1.000 1.000)" font-size="35.0" fill="#000" text-anchor="start" >NBM</text>
<text transform="translate(181.20 445.40) scale(1.000 1.000)" font-size="35.0" fill="#000" text-anchor="start" >hiIL6 Inv16 GF</text>
<text transform="translate(181.20 502.10) scale(1.000 1.000)" font-size="35.0" fill="#000" text-anchor="start" >loIL6 Inv16 GF</text>
<rect x="123.2" y="1068.3" width="35.1" height="35.0" fill="rgba(190,190,190,0.25)" stroke="#b2b2b2" stroke-width="1.8"/><path d="M140.7 1071.5 V1076.7 M140.7 1094.4 V1100.0" stroke="#000" stroke-width="1.8"/><rect x="126.5" y="1076.7" width="28.7" height="17.7" fill="#c2c2c2" stroke="#000" stroke-width="1.8"/><path d="M126.5 1085.6 H155.2" stroke="#000" stroke-width="1.8"/>
<rect x="299.7" y="1070.3" width="35.5" height="35.1" fill="rgba(220,20,60,0.25)" stroke="#a31c1c" stroke-width="1.8"/><path d="M317.5 1073.5 V1078.7 M317.5 1097.0 V1102.2" stroke="#000" stroke-width="1.8"/><rect x="303.5" y="1078.7" width="28.0" height="18.3" fill="#e02c52" stroke="#000" stroke-width="1.8"/><path d="M303.5 1087.6 H331.5" stroke="#000" stroke-width="1.8"/>
<rect x="627.0" y="1069.0" width="36.0" height="35.1" fill="rgba(30,144,255,0.25)" stroke="#1f1ff2" stroke-width="1.8"/><path d="M645.0 1072.2 V1077.4 M645.0 1095.7 V1100.9" stroke="#000" stroke-width="1.8"/><rect x="630.8" y="1077.4" width="28.7" height="18.3" fill="#389cff" stroke="#000" stroke-width="1.8"/><path d="M630.8 1086.8 H659.5" stroke="#000" stroke-width="1.8"/>
<text transform="translate(174.50 1097.70) scale(1.000 1.000)" font-size="36.3" fill="#000" text-anchor="start" >NBM</text>
<text transform="translate(340.40 1098.30) scale(1.000 1.000)" font-size="35.8" fill="#000" text-anchor="start" >hiIL6 NUP98 GF</text>
<text transform="translate(667.30 1098.30) scale(1.000 1.000)" font-size="35.8" fill="#000" text-anchor="start" >loIL6 NUP98 GF</text>
<rect x="123.0" y="1663.5" width="35.8" height="34.8" fill="rgba(220,20,60,0.25)" stroke="#a31c1c" stroke-width="1.8"/><path d="M140.8 1666.4 V1671.7 M140.8 1689.8 V1695.4" stroke="#000" stroke-width="1.8"/><rect x="126.6" y="1671.7" width="28.3" height="18.1" fill="#e02c52" stroke="#000" stroke-width="1.8"/><path d="M126.6 1680.8 H154.9" stroke="#000" stroke-width="1.8"/>
<rect x="122.4" y="1713.0" width="35.9" height="34.9" fill="rgba(255,185,15,0.27)" stroke="#f8857a" stroke-width="1.8"/><path d="M140.1 1716.0 V1721.1 M140.1 1739.4 V1745.2" stroke="#000" stroke-width="1.8"/><rect x="126.4" y="1721.1" width="28.0" height="18.3" fill="#fdbd2c" stroke="#000" stroke-width="1.8"/><path d="M126.4 1730.4 H154.4" stroke="#000" stroke-width="1.8"/>
<rect x="436.4" y="1661.5" width="36.1" height="35.9" fill="rgba(30,144,255,0.25)" stroke="#1f1ff2" stroke-width="1.9"/><path d="M454.4 1664.9 V1670.3 M454.4 1688.6 V1693.7" stroke="#000" stroke-width="1.8"/><rect x="440.3" y="1670.3" width="28.3" height="18.3" fill="#389cff" stroke="#000" stroke-width="1.8"/><path d="M440.3 1679.6 H468.6" stroke="#000" stroke-width="1.8"/>
<rect x="435.6" y="1711.5" width="35.2" height="35.0" fill="rgba(135,206,235,0.25)" stroke="#8ccbe8" stroke-width="1.8"/><path d="M453.4 1714.3 V1719.4 M453.4 1737.7 V1743.5" stroke="#000" stroke-width="1.8"/><rect x="439.5" y="1719.4" width="27.6" height="18.3" fill="#92d2ec" stroke="#000" stroke-width="1.8"/><path d="M439.5 1728.4 H467.1" stroke="#000" stroke-width="1.8"/>
<rect x="749.6" y="1708.3" width="35.1" height="34.9" fill="rgba(190,190,190,0.25)" stroke="#b2b2b2" stroke-width="1.8"/><path d="M767.1 1711.0 V1716.4 M767.1 1734.5 V1740.4" stroke="#000" stroke-width="1.8"/><rect x="753.4" y="1716.4" width="27.6" height="18.1" fill="#c2c2c2" stroke="#000" stroke-width="1.8"/><path d="M753.4 1725.4 H781.0" stroke="#000" stroke-width="1.8"/>
<text transform="translate(163.70 1692.70) scale(1.000 1.000)" font-size="33.0" fill="#000" text-anchor="start" >hiIL6 MLL GF</text>
<text transform="translate(163.70 1742.60) scale(1.000 1.000)" font-size="33.0" fill="#000" text-anchor="start" >hiIL6 MLL noGF</text>
<text transform="translate(477.40 1691.10) scale(1.000 1.000)" font-size="33.0" fill="#000" text-anchor="start" >loIL6 MLL GF</text>
<text transform="translate(477.40 1741.40) scale(1.000 1.000)" font-size="33.0" fill="#000" text-anchor="start" >loIL6 MLL noGF</text>
<text transform="translate(792.00 1738.90) scale(1.000 1.000)" font-size="33.5" fill="#000" text-anchor="start" >NBM</text>
<path d="M5.2 6.2C8 4.5 13 1.8 19.5 1.8C30 1.8 36.4 7 36.4 17.5L36.4 41Q36.4 42.6 34.8 42.6L29 42.6Q27.7 42.6 27.7 41.2L27.6 39C24.5 42 20.5 43.6 16.5 43.6C8.5 43.6 2.1 39 2.1 31.4C2.1 23.5 9 19.6 20 19.3L26.1 19L26 15.8C26 12 23.5 10 19 10C14.5 10 10.5 11.8 7.2 13.4Q4.3 14.8 4.3 12L4.3 8Q4.3 6.8 5.2 6.2ZM26.1 24.8L21.4 25C15.5 25.2 12.5 27.5 12.5 31.4C12.5 34.8 14.8 36.6 17.8 36.6C21 36.6 23.5 34.5 26.1 31.4Z" fill="#000" fill-rule="evenodd"/>
<path d="M2.6 606.2L10.3 606.2Q11.7 606.2 11.7 607.6L11.9 627.9C14.5 625 18.5 622.9 23 622.9C32 622.9 38.3 631 38.3 644C38.3 656.5 31.5 664.8 21.8 664.8C17 664.8 13 662.5 10.2 659L9.9 662.8Q9.8 664 8.5 664L2.6 664Q1.2 664 1.2 662.6L1.2 607.6Q1.2 606.2 2.6 606.2ZM11.8 638.1C14 634.5 16.8 631.9 20.2 631.9C25 631.9 27.7 636.5 27.7 643.8C27.7 651.5 25 656.2 20.2 656.2C17 656.2 14.5 654 11.8 650.5Z" fill="#000" fill-rule="evenodd"/>
<path d="M32.9 1218.1C29.6 1216.1 25.6 1215 21.4 1215C11.5 1215 3.6 1224 3.6 1235.8C3.6 1248 11 1256.9 21.4 1256.9C26 1256.9 30.5 1255.6 33.3 1253.3Q34 1252.7 34 1251.8L34 1245.3Q33.9 1243.4 32.4 1243.9C29.5 1246.5 26.5 1248.6 22.9 1248.6C17.5 1248.6 14.3 1243 14.3 1236C14.3 1229 17.5 1223.6 22.9 1223.6C26.3 1223.6 29.3 1225.3 31.6 1227.3Q33 1228.3 33.5 1226.4L34 1221Q34.1 1219 32.9 1218.1Z" fill="#000" fill-rule="evenodd"/>
</svg>
</body></html>
